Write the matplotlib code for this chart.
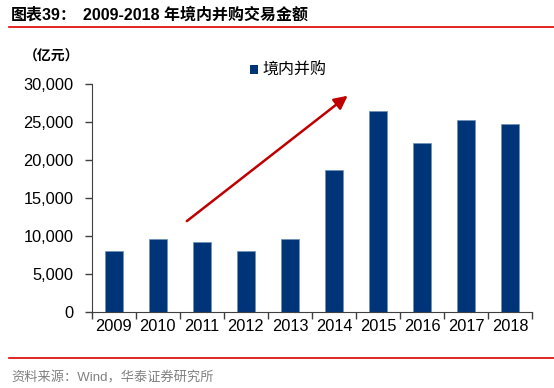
import matplotlib
matplotlib.use("Agg")
import matplotlib.pyplot as plt
from matplotlib.lines import Line2D
from matplotlib.patches import Rectangle
from matplotlib.ticker import FuncFormatter

years = ["2009", "2010", "2011", "2012", "2013", "2014", "2015", "2016", "2017", "2018"]
values = [8070, 9680, 9210, 8030, 9640, 18760, 26490, 22280, 25260, 24780]
yticks = [0, 5000, 10000, 15000, 20000, 25000, 30000]

plt.rcParams['font.family'] = ['Liberation Sans', 'Noto Sans CJK SC', 'DejaVu Sans']

W, H = 554, 388
fig = plt.figure(figsize=(W / 100, H / 100), dpi=100)

ax = fig.add_axes([91.7 / W, 1 - 312.3 / H, (532.3 - 91.7) / W, (312.3 - 84.3) / H])
x = list(range(len(years)))
ax.bar(x, values, width=0.41, color='#003479', edgecolor='#6f8fb8', linewidth=0.5, zorder=2)
ax.set_xlim(-0.5, len(years) - 0.5)
ax.set_ylim(0, 30000)
ax.set_yticks(yticks)
ax.yaxis.set_major_formatter(FuncFormatter(lambda v, p: f"{int(v):,}"))
ax.set_xticks([i - 0.5 for i in range(len(years) + 1)])
ax.set_xticklabels([])
ax.set_xticks(x, minor=True)
ax.set_xticklabels(years, minor=True)
ax.tick_params(axis='x', which='minor', length=0, labelsize=11.8, pad=5)
ax.tick_params(axis='x', which='major', length=5, direction='out', width=1, color='#404040')
ax.tick_params(axis='y', length=5, direction='out', width=1, color='#404040', labelsize=11.8, pad=8)
for s in ['top', 'right']:
    ax.spines[s].set_visible(False)
ax.spines['left'].set_color('#404040')
ax.spines['bottom'].set_color('#404040')

# trend arrow
ax.annotate('', xy=(5.31, 28500), xytext=(1.66, 12000),
            arrowprops=dict(arrowstyle='-|>,head_length=0.8,head_width=0.4', color='#c00000', lw=1.8,
                            shrinkA=0, shrinkB=0))

# legend
fig.patches.append(Rectangle((250 / W, 1 - 74 / H), 8.5 / W, 9 / H, transform=fig.transFigure,
                             facecolor='#003479', edgecolor='none'))
fig.text(262 / W, 1 - 70 / H, '境内并购', fontsize=11.5, va='center', ha='left',
         family=['Noto Sans CJK SC'])

# unit label
fig.text(24 / W, 1 - 57 / H, '（亿元）', fontsize=10, va='center', ha='left', fontweight='bold',
         family=['Noto Sans CJK SC'])

# title
fig.text(11 / W, 1 - 15 / H, '图表39：', fontsize=11.5, fontweight='bold', va='center', ha='left',
         family=['Liberation Sans', 'Noto Sans CJK SC'])
fig.text(83 / W, 1 - 15 / H, '2009-2018 年境内并购交易金额', fontsize=11.5, fontweight='bold',
         va='center', ha='left', family=['Liberation Sans', 'Noto Sans CJK SC'])

# red rules
fig.add_artist(Line2D([9 / W, 1], [1 - 27.3 / H, 1 - 27.3 / H], color='#e00000', lw=1.2,
                      transform=fig.transFigure))
fig.add_artist(Line2D([9 / W, 1], [1 - 358.3 / H, 1 - 358.3 / H], color='#e00000', lw=1.2,
                      transform=fig.transFigure))

# source
fig.text(11 / W, 1 - 378 / H, '资料来源：Wind，华泰证券研究所', fontsize=9.5, color='#808080',
         va='center', ha='left', family=['Liberation Sans', 'Noto Sans CJK SC'])

fig.savefig('out.png', dpi=100)
